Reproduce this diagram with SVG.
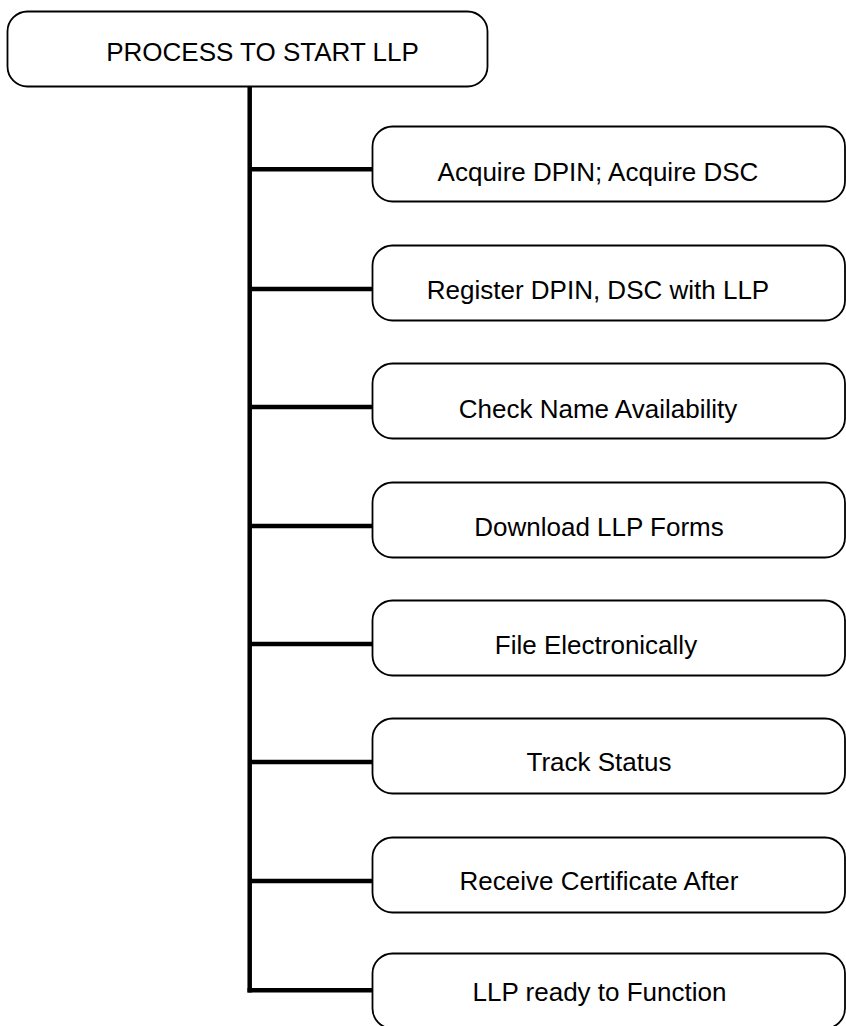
<svg xmlns="http://www.w3.org/2000/svg" width="846" height="1026" viewBox="0 0 846 1026">
  <style>
    .box { fill: #ffffff; stroke: #000000; stroke-width: 1.8; }
    .lbl { font-family: "Liberation Sans", Arial, sans-serif; font-size: 26px; fill: #000000; text-anchor: middle; }
    .wire { stroke: #000000; stroke-width: 4.5; fill: none; }
  </style>
  <rect x="0" y="0" width="846" height="1026" fill="#ffffff"/>

  <!-- trunk and branches -->
  <g id="connectors">
    <line class="wire" x1="249.7" y1="86" x2="249.7" y2="992.5"/>
    <line class="wire" x1="249.7" y1="169.3" x2="373" y2="169.3"/>
    <line class="wire" x1="249.7" y1="289" x2="373" y2="289"/>
    <line class="wire" x1="249.7" y1="407" x2="373" y2="407"/>
    <line class="wire" x1="249.7" y1="526" x2="373" y2="526"/>
    <line class="wire" x1="249.7" y1="644" x2="373" y2="644"/>
    <line class="wire" x1="249.7" y1="762" x2="373" y2="762"/>
    <line class="wire" x1="249.7" y1="881" x2="373" y2="881"/>
    <line class="wire" x1="247.5" y1="990.3" x2="373" y2="990.3"/>
  </g>

  <g id="root">
    <rect class="box" x="7.5" y="11.5" width="480" height="75" rx="20"/>
    <text class="lbl" x="262.5" y="61">PROCESS TO START LLP</text>
  </g>

  <g id="step1">
    <rect class="box" x="372.5" y="126.5" width="472.5" height="75" rx="20"/>
    <text class="lbl" x="598" y="181">Acquire DPIN; Acquire DSC</text>
  </g>
  <g id="step2">
    <rect class="box" x="372.5" y="245.5" width="472.5" height="75" rx="20"/>
    <text class="lbl" x="598" y="299">Register DPIN, DSC with LLP</text>
  </g>
  <g id="step3">
    <rect class="box" x="372.5" y="363.5" width="472.5" height="75" rx="20"/>
    <text class="lbl" x="598" y="418">Check Name Availability</text>
  </g>
  <g id="step4">
    <rect class="box" x="372.5" y="482.5" width="472.5" height="75" rx="20"/>
    <text class="lbl" x="599" y="536">Download LLP Forms</text>
  </g>
  <g id="step5">
    <rect class="box" x="372.5" y="600.5" width="472.5" height="75" rx="20"/>
    <text class="lbl" x="596" y="654">File Electronically</text>
  </g>
  <g id="step6">
    <rect class="box" x="372.5" y="718.5" width="472.5" height="75" rx="20"/>
    <text class="lbl" x="599" y="771">Track Status</text>
  </g>
  <g id="step7">
    <rect class="box" x="372.5" y="837.5" width="472.5" height="75" rx="20"/>
    <text class="lbl" x="599" y="890">Receive Certificate After</text>
  </g>
  <g id="step8">
    <rect class="box" x="372.5" y="953.5" width="472.5" height="75" rx="20"/>
    <text class="lbl" x="599.5" y="1000.5">LLP ready to Function</text>
  </g>
</svg>
